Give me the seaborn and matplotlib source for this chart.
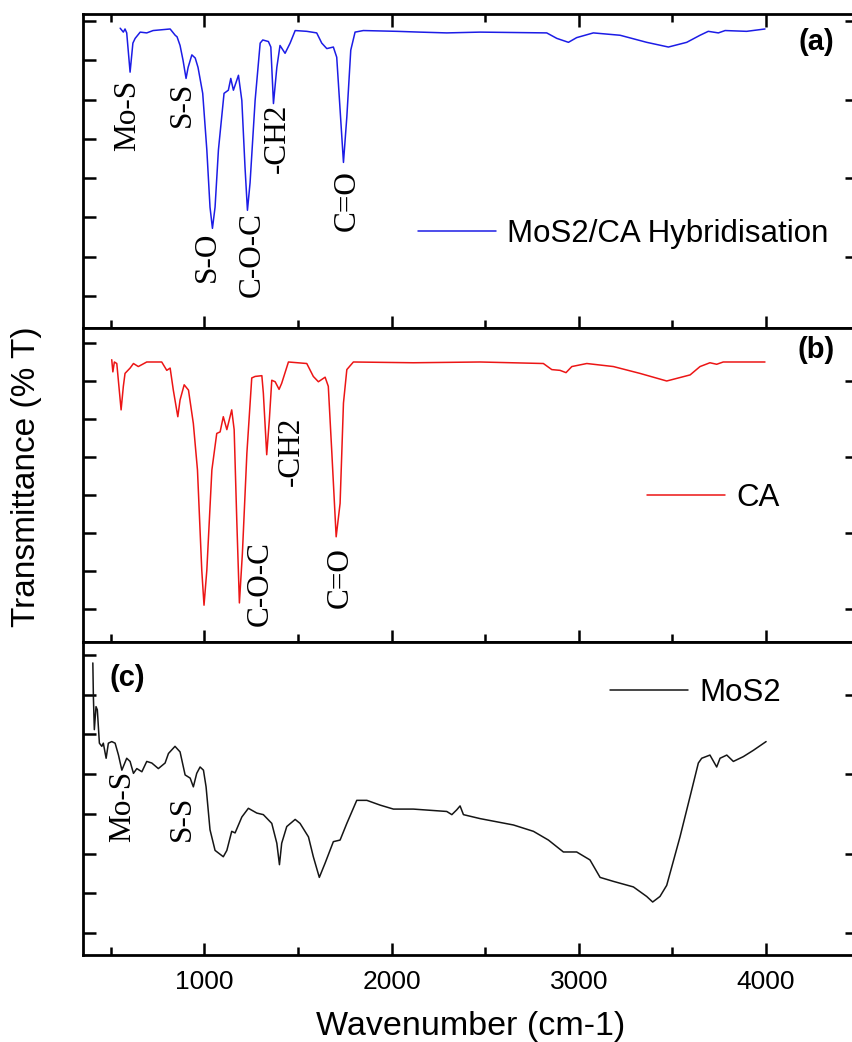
import pandas as pd
import seaborn as sns
import matplotlib.pyplot as plt
from matplotlib.ticker import MultipleLocator, FixedLocator

# -------------------------
# DATA
# -------------------------

# (a) MoS2/CA hybridisation
hyb_wn = [550, 567, 576, 585, 603, 618, 630, 657, 692, 726, 817, 844, 854, 870, 886,
          902, 913, 933, 951, 966, 991, 1013, 1030, 1043, 1057, 1075, 1105, 1128, 1141, 1155,
          1182, 1200, 1217, 1230, 1244, 1271, 1298, 1312, 1342, 1355, 1369, 1387, 1404, 1431, 1458,
          1485, 1547, 1600, 1627, 1654, 1689, 1707, 1725, 1743, 1761, 1782, 1805, 1849, 2028, 2152,
          2295, 2473, 2829, 2883, 2945, 2989, 3078, 3221, 3363, 3479, 3577, 3648, 3692, 3746, 3782,
          3897, 3995]
hyb_t = [94.1, 93.6, 94.0, 93.5, 88.5, 92.2, 92.8, 93.6, 93.5, 93.8, 94.0, 93.2, 93.0, 91.9, 90.0,
         87.7, 89.1, 90.7, 90.3, 89.1, 85.8, 78.6, 71.3, 68.6, 71.3, 78.6, 85.8, 86.2, 87.7, 86.2,
         88.1, 84.9, 76.4, 70.9, 74.4, 84.9, 92.2, 92.6, 92.4, 91.7, 84.5, 89.1, 91.9, 90.9, 92.2,
         93.8, 93.7, 93.5, 92.2, 91.5, 91.7, 90.4, 83.7, 77.0, 82.8, 91.3, 93.6, 93.8, 93.7, 93.6,
         93.5, 93.6, 93.5, 92.8, 92.3, 92.9, 93.5, 93.2, 92.3, 91.7, 92.3, 93.2, 93.7, 93.5, 93.8,
         93.7, 94.0]

# (b) CA
ca_wn = [505, 511, 519, 532, 555, 567, 576, 603, 621, 647, 692, 772, 799, 817, 834,
         858, 870, 892, 915, 941, 963, 986, 998, 1013, 1040, 1066, 1084, 1101, 1120, 1146,
         1159, 1173, 1187, 1203, 1227, 1253, 1271, 1307, 1315, 1333, 1347, 1360, 1378, 1399, 1413,
         1449, 1547, 1582, 1609, 1645, 1662, 1681, 1704, 1725, 1743, 1761, 1796, 2116, 2473, 2811,
         2856, 2900, 2932, 2963, 3043, 3185, 3327, 3470, 3595, 3648, 3701, 3737, 3772, 3995]
ca_t = [52.8, 51.2, 52.5, 52.3, 46.2, 49.3, 51.0, 51.7, 52.3, 51.9, 52.5, 52.5, 51.4, 51.7, 48.8,
        45.3, 47.5, 49.5, 48.8, 44.4, 38.3, 25.1, 20.5, 25.1, 38.3, 43.1, 43.3, 45.3, 43.6, 46.2,
        43.6, 31.7, 20.8, 27.3, 40.5, 50.4, 50.6, 50.7, 48.4, 40.3, 44.9, 50.1, 49.9, 48.9, 49.7,
        52.5, 52.3, 50.6, 49.9, 50.5, 49.3, 40.5, 29.5, 33.9, 47.1, 51.5, 52.5, 52.4, 52.5, 52.3,
        51.5, 51.4, 51.1, 51.9, 52.3, 51.9, 51.0, 50.0, 50.8, 51.9, 52.4, 52.2, 52.5, 52.5]

# (c) MoS2
mos2_wn = [404, 407, 412, 421, 428, 439, 452, 460, 475, 487, 505, 523, 541, 559, 585,
           603, 621, 639, 666, 692, 719, 754, 790, 808, 843, 870, 897, 924, 941, 959,
           977, 995, 1009, 1030, 1057, 1101, 1120, 1146, 1164, 1200, 1235, 1280, 1315, 1360, 1387,
           1401, 1413, 1440, 1485, 1511, 1556, 1582, 1614, 1645, 1689, 1725, 1761, 1814, 1868, 1939,
           2010, 2116, 2295, 2322, 2348, 2366, 2384, 2473, 2651, 2758, 2838, 2918, 2989, 3060, 3114,
           3185, 3292, 3363, 3395, 3434, 3470, 3541, 3595, 3639, 3657, 3701, 3737, 3755, 3791, 3826,
           3879, 3933, 4001]
mos2_t = [44.0, 39.7, 35.6, 38.5, 38.1, 33.9, 33.5, 33.9, 32.0, 33.9, 34.1, 33.9, 32.4, 30.5, 32.0,
          31.6, 30.1, 30.7, 30.3, 31.6, 31.4, 30.7, 31.4, 32.6, 33.5, 32.8, 29.9, 29.5, 28.4, 30.1,
          30.9, 30.5, 28.4, 23.0, 20.4, 19.6, 20.4, 22.8, 22.6, 24.6, 25.7, 25.1, 24.9, 23.8, 21.3,
          18.6, 21.3, 23.4, 24.3, 23.8, 22.1, 19.6, 17.0, 18.8, 21.5, 21.7, 23.8, 26.7, 26.7, 26.1,
          25.6, 25.6, 25.3, 24.9, 25.5, 26.0, 24.9, 24.4, 23.6, 22.8, 21.7, 20.2, 20.2, 19.2, 17.0,
          16.5, 15.8, 14.6, 13.9, 14.6, 16.0, 22.1, 27.2, 31.4, 32.0, 32.4, 30.9, 32.0, 32.4, 31.6,
          32.2, 33.0, 34.1]

# peak assignments
hyb_peaks = ["Mo-S", "S-S", "S-O", "C-O-C", "-CH2", "C=O"]
hyb_peak_x = [592, 881, 1014, 1255, 1388, 1762]
hyb_peak_y = [83.0, 84.4, 65.0, 65.3, 80.1, 72.1]

ca_peaks = ["C-O-C", "-CH2", "C=O"]
ca_peak_x = [1298, 1463, 1725]
ca_peak_y = [23.3, 40.7, 24.2]

mos2_peaks = ["Mo-S", "S-S"]
mos2_peak_x = [561, 881]
mos2_peak_y = [26.0, 24.4]

# -------------------------
# PLOT
# -------------------------
sns.set_style("ticks")
plt.rcParams['font.family'] = ['Liberation Sans', 'DejaVu Sans']
for key in ['text.color', 'axes.edgecolor', 'axes.labelcolor', 'xtick.color', 'ytick.color']:
    plt.rcParams[key] = 'black'

fig = plt.figure(figsize=(8.52, 10.42), dpi=100)

panels = [
    dict(wn=hyb_wn, t=hyb_t, color='#1c1ce6', name='MoS2/CA Hybridisation', tag='(a)',
         box=[0.0971, 0.6852, 0.9117, 0.3013], ylim=(55.9, 95.9),
         right_major=[65, 75, 85, 95], right_minor=[60, 70, 80, 90],
         peaks=hyb_peaks, px=hyb_peak_x, py=hyb_peak_y,
         leg=(0.4317, 0.300), tagpos=(0.944, 0.911)),
    dict(wn=ca_wn, t=ca_t, color='#ec1515', name='CA', tag='(b)',
         box=[0.0971, 0.3839, 0.9117, 0.3013], ylim=(15.66, 56.97),
         right_major=[20, 30, 40, 50], right_minor=[25, 35, 45, 55],
         peaks=ca_peaks, px=ca_peak_x, py=ca_peak_y,
         leg=(0.7264, 0.459), tagpos=(0.944, 0.930)),
    dict(wn=mos2_wn, t=mos2_t, color='#151515', name='MoS2', tag='(c)',
         box=[0.0971, 0.0835, 0.9117, 0.3004], ylim=(7.23, 46.64),
         right_major=[10, 20, 30, 40], right_minor=[15, 25, 35, 45],
         peaks=mos2_peaks, px=mos2_peak_x, py=mos2_peak_y,
         leg=(0.679, 0.837), tagpos=(0.057, 0.885)),
]

for i, p in enumerate(panels):
    ax = fig.add_axes(p['box'])
    df = pd.DataFrame({'Wavenumber': p['wn'], 'T': p['t']})
    sns.lineplot(data=df, x='Wavenumber', y='T', ax=ax, color=p['color'],
                 linewidth=1.1, estimator=None, sort=False, label=p['name'])

    ax.set_xlim(350, 4500)
    ax.set_ylim(*p['ylim'])
    ax.set_xlabel('')
    ax.set_ylabel('')

    # x ticks
    ax.xaxis.set_major_locator(MultipleLocator(1000))
    ax.xaxis.set_minor_locator(MultipleLocator(500))
    ax.tick_params(axis='x', which='both', direction='in', width=1.8,
                   top=(i == 0), bottom=True, labelbottom=(i == 2),
                   labelsize=19, pad=11)
    ax.tick_params(axis='x', which='major', length=9)
    ax.tick_params(axis='x', which='minor', length=6)

    # y ticks: left all equal, right alternating long/short
    ax.yaxis.set_major_locator(MultipleLocator(5))
    ax.tick_params(axis='y', which='major', direction='in', length=9, width=1.8,
                   left=True, right=False, labelleft=False)
    sec = ax.secondary_yaxis('right')
    sec.yaxis.set_major_locator(FixedLocator(p['right_major']))
    sec.yaxis.set_minor_locator(FixedLocator(p['right_minor']))
    sec.tick_params(which='major', direction='in', length=10, width=1.8, labelright=False)
    sec.tick_params(which='minor', direction='in', length=2.5, width=1.2)
    sec.spines['right'].set_linewidth(2)

    for s in ax.spines.values():
        s.set_linewidth(2)

    # peak labels
    for lab, x, y in zip(p['peaks'], p['px'], p['py']):
        ax.text(x, y, lab, rotation=90, ha='center', va='center',
                fontsize=22.5, family=['Liberation Serif', 'DejaVu Serif'])

    ax.legend(loc='center left', bbox_to_anchor=p['leg'], frameon=False,
              fontsize=22.5, handlelength=2.5, handletextpad=0.35,
              borderpad=0, borderaxespad=0)

    ax.text(p['tagpos'][0], p['tagpos'][1], p['tag'], transform=ax.transAxes,
            ha='center', va='center', fontsize=21, fontweight='bold')

    if i == 2:
        ax.set_xlabel('Wavenumber (cm-1)', fontsize=24.5, labelpad=12)

fig.text(27 / 852, 1 - 477 / 1042, 'Transmittance (% T)', rotation=90,
         ha='center', va='center', fontsize=24)

fig.savefig('out.png', dpi=100)
